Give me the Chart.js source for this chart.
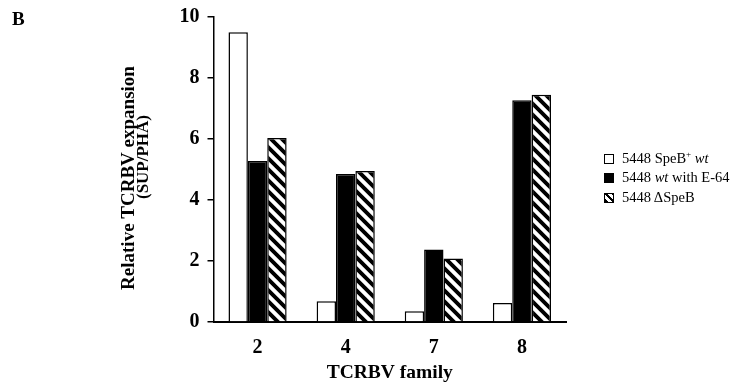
<!DOCTYPE html>
<html>
<head>
<meta charset="utf-8">
<script src="https://cdn.jsdelivr.net/npm/chart.js@4/dist/chart.umd.min.js"></script>
<style>
  body { margin: 0; background: #fff; }
  #wrap { position: relative; width: 731px; height: 388px; font-family: "Liberation Serif", "Times New Roman", serif; }
  #panel { position: absolute; left: 12px; top: 8px; font-weight: bold; font-size: 19px; }
  #legend { position: absolute; left: 604px; top: 145px; font-size: 14.5px; line-height: 19.5px; }
  #legend div { white-space: nowrap; }
  .sw { display: inline-block; width: 8px; height: 8px; border: 1px solid #000; margin-right: 8px; vertical-align: -1px; }
  .hatch { background: repeating-linear-gradient(45deg, #000 0 2.5px, #fff 2.5px 5px); }
</style>
</head>
<body>
<div id="wrap">
  <div id="panel">B</div>
  <canvas id="tcrbvChart" width="731" height="388"></canvas>
  <div id="legend">
    <div><span class="sw" style="background:#fff"></span>5448 SpeB<sup style="font-size:9px">+</sup> <i>wt</i></div>
    <div><span class="sw" style="background:#000"></span>5448 <i>wt</i> with E-64</div>
    <div><span class="sw hatch"></span>5448 &Delta;SpeB</div>
  </div>
</div>
<script>
const families = ["2", "4", "7", "8"];
const speBWt = [9.5, 0.68, 0.35, 0.62];
const wtWithE64 = [5.28, 4.85, 2.38, 7.27];
const deltaSpeB = [6.03, 4.95, 2.08, 7.45];
const yTicks = [0, 2, 4, 6, 8, 10];

// diagonal stripes for the ΔSpeB bars
function makeHatch() {
  const s = 11;
  const c = document.createElement("canvas");
  c.width = s; c.height = s;
  const g = c.getContext("2d");
  g.fillStyle = "#fff";
  g.fillRect(0, 0, s, s);
  g.strokeStyle = "#000";
  g.lineWidth = 3.9;
  g.beginPath();
  g.moveTo(-2, -2); g.lineTo(s + 2, s + 2);
  g.moveTo(-s - 2, -2); g.lineTo(2, s + 2);
  g.moveTo(s - 2, -2); g.lineTo(2 * s + 2, s + 2);
  g.stroke();
  return g.createPattern(c, "repeat");
}

const serif = "'Liberation Serif', 'Times New Roman', serif";

// two-line y title drawn next to the axis
const yTitle = {
  id: "yTitle",
  afterDraw(chart) {
    const { ctx } = chart;
    ctx.save();
    ctx.fillStyle = "#000";
    ctx.textAlign = "center";
    ctx.textBaseline = "middle";
    ctx.translate(129.5, 178);
    ctx.rotate(-Math.PI / 2);
    ctx.font = "bold 19px " + serif;
    ctx.fillText("Relative TCRBV expansion", 0, 0);
    ctx.font = "bold 17px " + serif;
    ctx.fillText("(SUP/PHA)", 21, 14);
    ctx.restore();
  }
};

const ctx = document.getElementById("tcrbvChart").getContext("2d");
new Chart(ctx, {
  type: "bar",
  data: {
    labels: families,
    datasets: [
      { label: "5448 SpeB+ wt", data: speBWt, backgroundColor: "#fff", borderColor: "#000", borderWidth: 1.5 },
      { label: "5448 wt with E-64", data: wtWithE64, backgroundColor: "#000", borderColor: "#000", borderWidth: 1.5 },
      { label: "5448 ΔSpeB", data: deltaSpeB, backgroundColor: makeHatch(), borderColor: "#000", borderWidth: 1.5 }
    ]
  },
  plugins: [yTitle],
  options: {
    responsive: false,
    animation: false,
    layout: { padding: { top: 17, right: 165, bottom: 0, left: 0 } },
    categoryPercentage: 0.66,
    barPercentage: 1.0,
    plugins: { legend: { display: false }, tooltip: { enabled: false } },
    scales: {
      x: {
        grid: { display: false },
        border: { display: true, color: "#000", width: 2 },
        ticks: { color: "#000", padding: 6, font: { family: serif, size: 20, weight: "bold" } },
        title: { display: true, text: "TCRBV family", color: "#000", padding: { top: 0, bottom: 3 }, font: { family: serif, size: 19.5, weight: "bold" } },
        afterFit(scale) { scale.height = 66; }
      },
      y: {
        min: 0, max: 10,
        afterBuildTicks(scale) { scale.ticks = yTicks.map(v => ({ value: v })); },
        grid: { drawOnChartArea: false, drawTicks: true, tickLength: 6, color: "#000", lineWidth: 1.5 },
        border: { display: true, color: "#000", width: 1.5 },
        ticks: { color: "#000", padding: 8, font: { family: serif, size: 20, weight: "bold" } },
        afterFit(scale) { scale.width = 213.5; scale.paddingTop = 0; }
      }
    }
  }
});
</script>
</body>
</html>
